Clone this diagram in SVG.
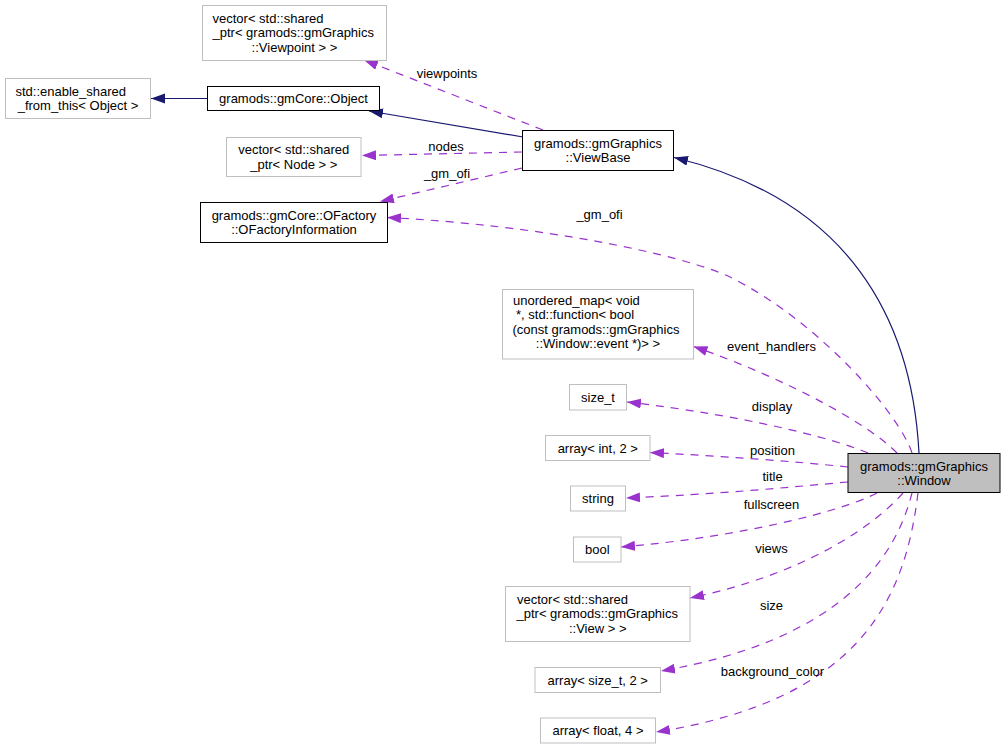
<svg xmlns="http://www.w3.org/2000/svg" width="1004" height="749" viewBox="0 0 1004 749">
<style>
text{font-family:"Liberation Sans",Arial,Helvetica,sans-serif;font-size:13px;fill:#000}
.c{text-anchor:middle}
.s{text-anchor:start}
.ext{fill:#fff;stroke:#bfbfbf;stroke-width:1}
.doc{fill:#fff;stroke:#000;stroke-width:1}
.cur{fill:#bfbfbf;stroke:#000;stroke-width:1}
.inh{fill:none;stroke:#191970;stroke-width:1.2;marker-end:url(#an)}
.use{fill:none;stroke:#9a32cd;stroke-width:1.2;stroke-dasharray:8,7;marker-end:url(#ap)}
</style>
<defs>
<marker id="an" markerUnits="userSpaceOnUse" markerWidth="15" markerHeight="11" refX="14" refY="5" orient="auto"><path d="M0,0 L14,5 L0,10 z" fill="#191970"/></marker>
<marker id="ap" markerUnits="userSpaceOnUse" markerWidth="15" markerHeight="11" refX="14" refY="5" orient="auto"><path d="M0,0 L14,5 L0,10 z" fill="#9a32cd"/></marker>
</defs>
<rect width="1004" height="749" fill="#fff"/>
<g id="connectors">
<path class="inh" d="M207,98.5 L151,98.5"/>
<path class="inh" d="M523,137 L369,111"/>
<path class="inh" d="M919,453 C912,320 850,200 674,157.5"/>
<path class="use" d="M543,130 L364,60"/>
<path class="use" d="M522,152 L362,155.5"/>
<path class="use" d="M522,168 L380,201.5"/>
<path class="use" d="M912,453 C900,415 820,322 730,277 C680,254 540,225 387,217.5"/>
<path class="use" d="M897,453 C870,425 790,380 693.5,346.5"/>
<path class="use" d="M868,453 C830,437 740,415 627,402"/>
<path class="use" d="M848,467 C790,461 720,456 650,452.5"/>
<path class="use" d="M848,482 C780,488 720,494 626,498"/>
<path class="use" d="M877,493 C840,512 740,537 621,547"/>
<path class="use" d="M903,493 C870,530 800,575 690,598"/>
<path class="use" d="M912,493 C895,560 840,640 661,671"/>
<path class="use" d="M918,493 C905,600 860,700 656,732"/>
<text class="c" x="447" y="77.5">viewpoints</text>
<text class="c" x="446" y="151">nodes</text>
<text class="c" x="447" y="178">_gm_ofi</text>
<text class="c" x="599.5" y="219">_gm_ofi</text>
<text class="c" x="771.5" y="351">event_handlers</text>
<text class="c" x="772" y="411">display</text>
<text class="c" x="772.5" y="454.5">position</text>
<text class="c" x="772.5" y="481">title</text>
<text class="c" x="771.5" y="509">fullscreen</text>
<text class="c" x="771.5" y="553">views</text>
<text class="c" x="771.5" y="609.5">size</text>
<text class="c" x="772.5" y="676">background_color</text>
</g>
<g id="node_viewpoints">
<rect class="ext" x="202.5" y="5.5" width="184" height="55"/>
<text class="s" x="212.5" y="22.5">vector&lt; std::shared</text>
<text class="s" x="212.5" y="37">_ptr&lt; gramods::gmGraphics</text>
<text class="c" x="294.5" y="51.5">::Viewpoint &gt; &gt;</text>
</g>
<g id="node_enable_shared">
<rect class="ext" x="5.5" y="78.5" width="145" height="40"/>
<text class="s" x="15.5" y="95.5">std::enable_shared</text>
<text class="c" x="78" y="110">_from_this&lt; Object &gt;</text>
</g>
<g id="node_object">
<rect class="doc" x="207.5" y="86.5" width="172" height="24"/>
<text class="c" x="293.5" y="103">gramods::gmCore::Object</text>
</g>
<g id="node_nodes">
<rect class="ext" x="226.5" y="137.5" width="134.5" height="39"/>
<text class="c" x="293.75" y="154">vector&lt; std::shared</text>
<text class="c" x="293.75" y="168.5">_ptr&lt; Node &gt; &gt;</text>
</g>
<g id="node_ofactory">
<rect class="doc" x="200.5" y="202.5" width="187" height="40"/>
<text class="c" x="294" y="219.5">gramods::gmCore::OFactory</text>
<text class="c" x="294" y="234">::OFactoryInformation</text>
</g>
<g id="node_viewbase">
<rect class="doc" x="522.5" y="130.5" width="151" height="40"/>
<text class="c" x="598" y="147.5">gramods::gmGraphics</text>
<text class="c" x="598" y="162">::ViewBase</text>
</g>
<g id="node_event_map">
<rect class="ext" x="502.5" y="289.5" width="191" height="69.5"/>
<text class="s" x="513" y="304.5">unordered_map&lt; void</text>
<text class="s" x="516" y="319">*, std::function&lt; bool</text>
<text class="s" x="512.5" y="333.5">(const gramods::gmGraphics</text>
<text class="c" x="598" y="348">::Window::event *)&gt; &gt;</text>
</g>
<g id="node_size_t">
<rect class="ext" x="569.5" y="384.5" width="57" height="25.5"/>
<text class="c" x="598" y="402">size_t</text>
</g>
<g id="node_array_int">
<rect class="ext" x="545.5" y="435.5" width="104.5" height="25"/>
<text class="c" x="597.75" y="452.5">array&lt; int, 2 &gt;</text>
</g>
<g id="node_string">
<rect class="ext" x="570.5" y="486" width="55" height="25"/>
<text class="c" x="598" y="503">string</text>
</g>
<g id="node_bool">
<rect class="ext" x="573.5" y="537" width="47.5" height="25"/>
<text class="c" x="597.25" y="554">bool</text>
</g>
<g id="node_window">
<rect class="cur" x="848" y="453.5" width="152" height="39"/>
<text class="c" x="924" y="470.5">gramods::gmGraphics</text>
<text class="c" x="924" y="485">::Window</text>
</g>
<g id="node_views">
<rect class="ext" x="505.5" y="586.5" width="184.5" height="55"/>
<text class="s" x="517" y="603.5">vector&lt; std::shared</text>
<text class="s" x="516.5" y="618">_ptr&lt; gramods::gmGraphics</text>
<text class="c" x="597.75" y="632.5">::View &gt; &gt;</text>
</g>
<g id="node_array_size_t">
<rect class="ext" x="535" y="667.5" width="125.5" height="25"/>
<text class="c" x="597.75" y="684.5">array&lt; size_t, 2 &gt;</text>
</g>
<g id="node_array_float">
<rect class="ext" x="540.5" y="718" width="115" height="25"/>
<text class="c" x="598" y="735">array&lt; float, 4 &gt;</text>
</g>
</svg>
